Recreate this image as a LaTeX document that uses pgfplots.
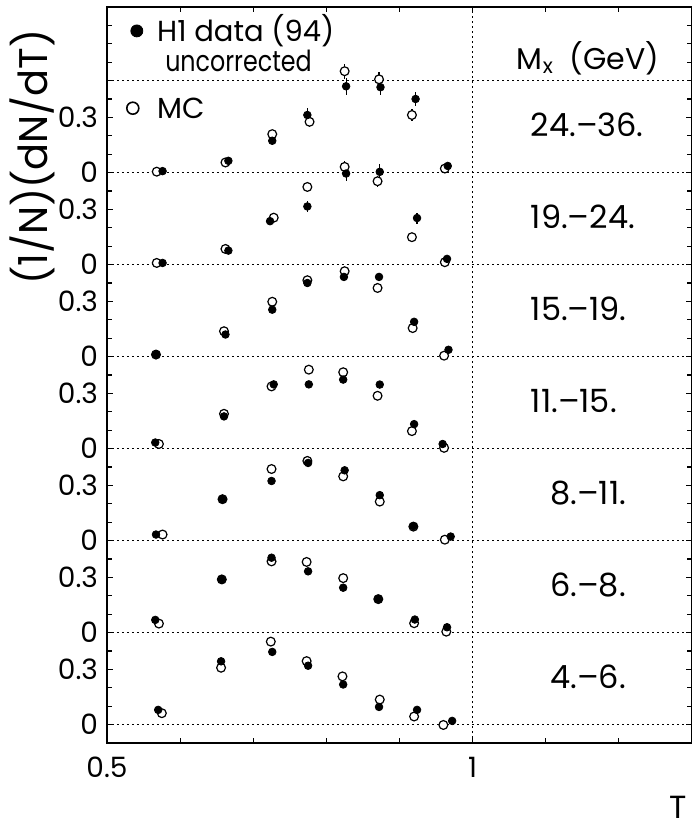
\documentclass[border=0pt]{standalone}
\usepackage{fontspec}
\setmainfont{Poppins}
\usepackage{pgfplots}
\pgfplotsset{compat=1.18}
\usepackage{pgfplotstable}

% panel 24-36 (offset 3.0)
\pgfplotstableread{
Td d ed Tm m em
0.576 0.008 0.010 0.568 0.005 0.005
0.666 0.064 0.015 0.662 0.055 0.010
0.726 0.173 0.020 0.726 0.209 0.020
0.774 0.313 0.040 0.777 0.276 0.030
0.827 0.469 0.045 0.825 0.551 0.040
0.874 0.464 0.045 0.872 0.507 0.040
0.922 0.400 0.040 0.917 0.313 0.030
0.966 0.036 0.010 0.962 0.022 0.010
}\pG
% panel 19-24 (offset 2.5)
\pgfplotstableread{
Td d ed Tm m em
0.576 0.009 0.010 0.568 0.009 0.005
0.666 0.076 0.010 0.662 0.085 0.010
0.723 0.236 0.020 0.728 0.255 0.015
0.774 0.316 0.030 0.774 0.422 0.020
0.827 0.495 0.040 0.825 0.531 0.030
0.873 0.504 0.040 0.870 0.453 0.030
0.924 0.253 0.030 0.917 0.149 0.020
0.965 0.031 0.010 0.962 0.013 0.010
}\pF
% panel 15-19 (offset 2.0)
\pgfplotstableread{
Td d ed Tm m em
0.567 0.011 0.005 0.567 0.011 0.005
0.662 0.120 0.010 0.660 0.138 0.010
0.726 0.255 0.010 0.726 0.298 0.010
0.774 0.400 0.020 0.774 0.415 0.010
0.824 0.433 0.020 0.825 0.464 0.010
0.872 0.433 0.020 0.870 0.373 0.010
0.920 0.189 0.015 0.918 0.155 0.010
0.967 0.037 0.005 0.961 0.005 0.005
}\pE
% panel 11-15 (offset 1.5)
\pgfplotstableread{
Td d ed Tm m em
0.566 0.033 0.005 0.571 0.025 0.005
0.660 0.175 0.010 0.660 0.189 0.005
0.728 0.349 0.010 0.725 0.338 0.005
0.776 0.349 0.010 0.776 0.429 0.005
0.823 0.375 0.010 0.823 0.415 0.005
0.873 0.348 0.010 0.870 0.287 0.005
0.920 0.133 0.010 0.917 0.095 0.005
0.959 0.025 0.005 0.961 0.004 0.005
}\pD
% panel 8-11 (offset 1.0)
\pgfplotstableread{
Td d ed Tm m em
0.567 0.033 0.005 0.576 0.033 0.005
0.658 0.225 0.005 0.658 0.225 0.005
0.725 0.324 0.005 0.725 0.389 0.005
0.775 0.422 0.005 0.774 0.433 0.005
0.825 0.382 0.005 0.823 0.349 0.005
0.873 0.247 0.005 0.873 0.212 0.005
0.919 0.078 0.005 0.919 0.076 0.005
0.970 0.022 0.005 0.962 0.005 0.005
}\pC
% panel 6-8 (offset 0.5)
\pgfplotstableread{
Td d ed Tm m em
0.566 0.069 0.005 0.571 0.049 0.005
0.657 0.289 0.005 0.657 0.289 0.005
0.725 0.407 0.005 0.725 0.387 0.005
0.775 0.333 0.005 0.773 0.384 0.005
0.823 0.244 0.005 0.823 0.296 0.005
0.871 0.182 0.005 0.871 0.182 0.005
0.921 0.071 0.005 0.920 0.051 0.005
0.965 0.029 0.005 0.964 0.005 0.005
}\pB
% panel 4-6 (offset 0.0)
\pgfplotstableread{
Td d ed Tm m em
0.570 0.080 0.005 0.575 0.062 0.005
0.656 0.344 0.005 0.656 0.309 0.005
0.726 0.395 0.005 0.724 0.451 0.005
0.775 0.320 0.005 0.773 0.345 0.005
0.823 0.218 0.005 0.822 0.262 0.005
0.872 0.096 0.005 0.873 0.136 0.005
0.924 0.080 0.005 0.920 0.044 0.005
0.972 0.020 0.005 0.960 -0.002 0.005
}\pA

\pgfplotsset{
  mcstyle/.style={only marks, mark=*, mark size=2.2pt, black,
    mark options={line width=0.6pt, fill=white, draw=black},
    error bars/.cd, y dir=both, y explicit, error mark=none,
    error bar style={line width=0.6pt}},
  datastyle/.style={only marks, mark=*, mark size=1.9pt, black,
    error bars/.cd, y dir=both, y explicit, error mark=none,
    error bar style={line width=0.6pt}},
}
\tikzset{dotline/.style={line width=0.8pt, dash pattern=on 0.8pt off 1.7pt}}

\begin{document}
\begin{tikzpicture}
\begin{axis}[name=ax, scale only axis, width=292.5pt, height=368pt,
  xmin=0.5, xmax=1.3, ymin=-0.1, ymax=3.9, clip=false,
  xtick={0.5,1}, xticklabels={0.5,1},
  minor xtick={0.6,0.7,0.8,0.9,1.1,1.2},
  ytick={0,0.3,0.5,0.8,1,1.3,1.5,1.8,2,2.3,2.5,2.8,3,3.3},
  yticklabels={0,0.3,0,0.3,0,0.3,0,0.3,0,0.3,0,0.3,0,0.3},
  minor ytick={-0.1,0.1,0.2,0.4,0.6,0.7,0.9,1.1,1.2,1.4,1.6,1.7,1.9,2.1,2.2,2.4,2.6,2.7,2.9,3.1,3.2,3.4,3.5,3.6,3.7,3.8},
  tick align=inside, major tick length=3pt, minor tick length=2.5pt,
  tick style={line width=0.6pt, black},
  axis line style={line width=0.9pt},
  tick label style={font=\fontsize{14}{16}\selectfont},
  xticklabel style={yshift=-3.5pt},
  yticklabel style={xshift=-1pt},
  ylabel={(1/N)(dN/dT)},
  ylabel style={at={(rel axis cs:-0.128,0.796)}, anchor=center, font=\fontsize{20}{24}\selectfont},
  xlabel={T},
  xlabel style={at={(rel axis cs:0.976,0)}, anchor=center, yshift=-32pt, font=\fontsize{16}{18}\selectfont},
]
% reference lines
\draw[dotline] (axis cs:0.5,0) -- (axis cs:1.3,0);
\draw[dotline] (axis cs:0.5,0.5) -- (axis cs:1.3,0.5);
\draw[dotline] (axis cs:0.5,1) -- (axis cs:1.3,1);
\draw[dotline] (axis cs:0.5,1.5) -- (axis cs:1.3,1.5);
\draw[dotline] (axis cs:0.5,2) -- (axis cs:1.3,2);
\draw[dotline] (axis cs:0.5,2.5) -- (axis cs:1.3,2.5);
\draw[dotline] (axis cs:0.5,3) -- (axis cs:1.3,3);
\draw[dotline] (axis cs:0.5,3.5) -- (axis cs:1.3,3.5);
\draw[dotline] (axis cs:1,-0.1) -- (axis cs:1,3.9);

% MC
\addplot[mcstyle] table[x=Tm, y expr=\thisrow{m}+3.0, y error=em]{\pG};
\addplot[mcstyle] table[x=Tm, y expr=\thisrow{m}+2.5, y error=em]{\pF};
\addplot[mcstyle] table[x=Tm, y expr=\thisrow{m}+2.0, y error=em]{\pE};
\addplot[mcstyle] table[x=Tm, y expr=\thisrow{m}+1.5, y error=em]{\pD};
\addplot[mcstyle] table[x=Tm, y expr=\thisrow{m}+1.0, y error=em]{\pC};
\addplot[mcstyle] table[x=Tm, y expr=\thisrow{m}+0.5, y error=em]{\pB};
\addplot[mcstyle] table[x=Tm, y expr=\thisrow{m}+0.0, y error=em]{\pA};
% data
\addplot[datastyle] table[x=Td, y expr=\thisrow{d}+3.0, y error=ed]{\pG};
\addplot[datastyle] table[x=Td, y expr=\thisrow{d}+2.5, y error=ed]{\pF};
\addplot[datastyle] table[x=Td, y expr=\thisrow{d}+2.0, y error=ed]{\pE};
\addplot[datastyle] table[x=Td, y expr=\thisrow{d}+1.5, y error=ed]{\pD};
\addplot[datastyle] table[x=Td, y expr=\thisrow{d}+1.0, y error=ed]{\pC};
\addplot[datastyle] table[x=Td, y expr=\thisrow{d}+0.5, y error=ed]{\pB};
\addplot[datastyle] table[x=Td, y expr=\thisrow{d}+0.0, y error=ed]{\pA};

% legend markers
\addplot[only marks, mark=*, mark size=3pt, black] coordinates {(0.5408,3.770)};
\addplot[only marks, mark=*, mark size=3pt, black, mark options={line width=0.8pt, fill=white, draw=black}] coordinates {(0.5353,3.350)};
\node[anchor=west, font=\fontsize{14.5}{17}\selectfont] at (axis cs:0.559,3.770) {H1 data (94)};
\node[anchor=west, font=\fontsize{14.5}{17}\selectfont] at (axis cs:0.570,3.606) {\scalebox{0.82}[1]{uncorrected}};
\node[anchor=west, font=\fontsize{14.5}{17}\selectfont] at (axis cs:0.559,3.350) {MC};

% Mx labels
\node[font=\fontsize{15}{17}\selectfont] at (axis cs:1.158,3.622) {M\textsubscript{x}\ \ (GeV)};
\node[anchor=west, font=\fontsize{16}{18}\selectfont] at (axis cs:1.070,3.26) {24.--36.};
\node[anchor=west, font=\fontsize{16}{18}\selectfont] at (axis cs:1.070,2.76) {19.--24.};
\node[anchor=west, font=\fontsize{16}{18}\selectfont] at (axis cs:1.070,2.26) {15.--19.};
\node[anchor=west, font=\fontsize{16}{18}\selectfont] at (axis cs:1.070,1.76) {11.--15.};
\node[anchor=west, font=\fontsize{16}{18}\selectfont] at (axis cs:1.0965,1.26) {8.--11.};
\node[anchor=west, font=\fontsize{16}{18}\selectfont] at (axis cs:1.0965,0.76) {6.--8.};
\node[anchor=west, font=\fontsize{16}{18}\selectfont] at (axis cs:1.0965,0.26) {4.--6.};
\end{axis}
\pgfresetboundingbox
\path ([shift={(-53.5pt,-43pt)}]ax.south west) rectangle ([shift={(0pt,3.5pt)}]ax.north east);
\end{tikzpicture}
\end{document}
